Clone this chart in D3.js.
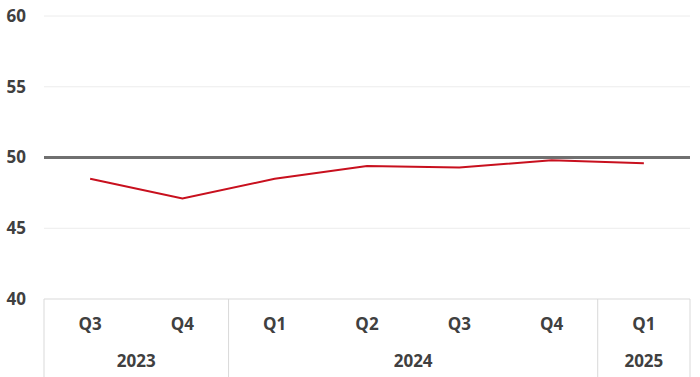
<!DOCTYPE html>
<html><head><meta charset="utf-8">
<script src="https://cdn.jsdelivr.net/npm/d3@7"></script>
<style>body{margin:0;background:#fff}svg{display:block}text{font-family:"Open Sans",sans-serif;font-weight:700;fill:#404040}</style>
</head><body><svg id="c" width="700" height="377"></svg>
<script>
const quarters = ["Q3","Q4","Q1","Q2","Q3","Q4","Q1"];
const years = ["2023","2023","2024","2024","2024","2024","2025"];
const values = [48.5,47.1,48.5,49.4,49.3,49.8,49.6];
const yTicks = [40,45,50,55,60];
const refValue = 50;

const svg = d3.select("#c");
const L=44,R=690,T=16,B=299;
const keys = quarters.map((q,i)=>i);
const x = d3.scaleBand().domain(keys).range([L,R]);
const y = d3.scaleLinear().domain([40,60]).range([B,T]);

// gridlines
svg.append("g").selectAll("line").data(yTicks.filter(t=>t!==40 && t!==refValue)).join("line")
  .attr("x1",L).attr("x2",R).attr("y1",d=>y(d)).attr("y2",d=>y(d))
  .attr("stroke","#ececec").attr("stroke-width",1);

// y labels
svg.append("g").selectAll("text").data(yTicks).join("text")
  .attr("x",26).attr("y",d=>y(d)).attr("dy","0.35em").attr("text-anchor","end")
  .attr("font-size",17).text(d=>d);

// reference line
svg.append("line").attr("x1",L).attr("x2",R).attr("y1",y(refValue)).attr("y2",y(refValue))
  .attr("stroke","#707070").attr("stroke-width",3);

// x axis line
svg.append("line").attr("x1",L).attr("x2",R).attr("y1",B).attr("y2",B)
  .attr("stroke","#d9d9d9").attr("stroke-width",1);

// separators between year groups
const groups=[];
years.forEach((yr,i)=>{ if(!groups.length||groups[groups.length-1].yr!==yr) groups.push({yr,start:i,end:i}); else groups[groups.length-1].end=i; });
const seps=[L].concat(groups.map(g=>x(g.end)+x.bandwidth()));
svg.append("g").selectAll("line").data(seps).join("line")
  .attr("x1",d=>d).attr("x2",d=>d).attr("y1",B).attr("y2",377)
  .attr("stroke","#d9d9d9").attr("stroke-width",1);

// quarter labels
svg.append("g").selectAll("text").data(quarters).join("text")
  .attr("x",(d,i)=>x(i)+x.bandwidth()/2).attr("y",324).attr("dy","0.35em")
  .attr("text-anchor","middle").attr("font-size",17).text(d=>d);

// year labels
svg.append("g").selectAll("text").data(groups).join("text")
  .attr("x",g=>(x(g.start)+x(g.end)+x.bandwidth())/2).attr("y",361).attr("dy","0.35em")
  .attr("text-anchor","middle").attr("font-size",17).text(g=>g.yr);

// data line
const line = d3.line().x((d,i)=>x(i)+x.bandwidth()/2).y(d=>y(d));
svg.append("path").datum(values).attr("d",line).attr("fill","none")
  .attr("stroke","#c8101e").attr("stroke-width",2);
</script></body></html>
